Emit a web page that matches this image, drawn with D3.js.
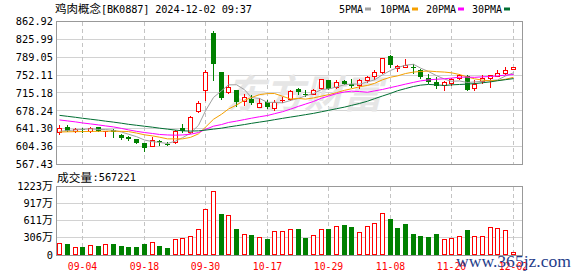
<!DOCTYPE html>
<html><head><meta charset="utf-8">
<script src="https://cdn.jsdelivr.net/npm/d3@7"></script>
<style>html,body{margin:0;padding:0;background:#fff;}svg{display:block;}</style>
</head><body>
<svg id="c" width="578" height="276"></svg>
<script>
// ---------- data ----------
const dates = ["08-30","09-02","09-03","09-04","09-05","09-06","09-09","09-10","09-11","09-12",
"09-13","09-18","09-19","09-20","09-23","09-24","09-25","09-26","09-27","09-30",
"10-08","10-09","10-10","10-11","10-14","10-15","10-16","10-17","10-18","10-21",
"10-22","10-23","10-24","10-25","10-28","10-29","10-30","10-31","11-01","11-04",
"11-05","11-06","11-07","11-08","11-11","11-12","11-13","11-14","11-15","11-18",
"11-19","11-20","11-21","11-22","11-25","11-26","11-27","11-28","11-29","12-02"];
const open  = [635.1,644.0,636.5,641.0,636.5,644.0,634.6,637.9,627.6,623.5,
620.1,611.2,606.4,616.7,609.9,613.3,642.0,635.1,678.2,722.0,
840.0,758.0,716.5,721.3,698.8,703.5,687.1,696.7,684.4,700.9,
703.5,723.4,713.8,713.8,724.8,741.9,727.5,739.8,733.0,732.3,
742.6,750.1,758.3,792.5,767.2,769.9,768.6,761.7,746.0,738.4,
730.9,735.7,746.0,750.1,725.4,739.1,746.6,750.7,756.2,764.5];
const high  = [648.8,649.5,643.4,643.5,645.4,645.4,636.0,640.6,629.7,626.9,
620.8,612.6,623.5,618.0,614.6,638.0,652.1,667.3,698.8,761.7,
842.5,759.0,751.4,722.0,712.4,711.7,704.9,701.5,701.5,707.0,
721.3,726.1,720.6,724.1,744.6,742.6,742.6,741.2,743.9,743.9,
750.7,761.7,788.4,794.5,772.0,785.0,776.0,765.1,754.9,748.0,
739.8,745.3,754.9,752.8,742.6,753.4,753.4,761.7,767.9,768.0];
const low   = [630.4,635.8,635.1,634.5,635.1,636.5,626.9,624.2,620.1,618.0,
611.9,596.1,605.7,607.8,607.8,611.2,634.5,633.1,675.5,701.5,
742.0,703.0,716.0,688.5,691.2,693.0,685.8,683.7,679.6,696.7,
701.5,713.8,709.7,712.4,724.1,722.7,726.1,733.0,727.5,726.1,
738.5,744.6,756.2,768.6,760.4,768.6,757.0,746.6,736.4,726.1,
722.0,731.6,744.6,721.0,722.0,736.4,728.2,749.4,754.9,764.0];
const close = [643.4,637.2,641.3,640.0,643.4,637.2,635.9,634.5,622.1,620.1,
612.6,600.9,618.0,613.9,608.5,637.2,635.8,665.9,694.7,758.3,
775.4,704.0,727.5,696.0,707.0,694.0,695.3,686.4,696.7,701.5,
719.3,716.5,712.4,720.6,743.9,724.1,737.7,734.3,728.9,741.9,
748.0,758.3,787.0,773.4,771.3,773.4,767.2,748.0,737.7,728.9,
738.4,743.9,751.4,722.0,734.3,746.6,751.4,756.2,763.1,767.9];
// volume in 万 (10k); volUp: 1 = red bar, 0 = green bar
const volume = [207,189,136,142,171,160,189,195,160,142,
142,195,225,160,124,278,295,331,461,809,
1134,727,703,461,366,354,313,284,425,425,
461,461,301,349,461,461,508,532,496,402,
508,561,739,638,479,549,372,337,319,372,
278,301,331,443,337,337,490,473,443,56.7];
const volUp = [1,0,1,0,1,0,1,0,0,0, 0,0,1,0,0,1,1,1,1,1,
1,0,1,0,1,0,1,0,1,1, 1,0,0,1,1,0,1,0,0,1,
1,1,1,0,0,0,0,0,0,0, 1,1,1,0,1,1,1,1,1,1];
const lastVolume = 567221;
const ma5  = [636.0,637.5,639.0,640.0,641.1,639.8,639.6,638.2,634.6,630.0,
625.0,618.0,614.7,613.1,610.8,615.7,622.7,632.3,648.4,678.4,
706.0,719.7,732.0,732.2,722.0,705.7,704.0,695.7,695.9,694.8,
699.8,704.1,709.3,714.1,722.5,723.5,727.7,732.1,733.8,733.4,
738.2,742.3,752.8,761.7,767.6,772.7,774.5,766.7,759.5,751.0,
744.0,739.4,740.1,736.9,738.0,739.6,741.1,742.1,750.3,757.0];
const ma10 = [634.5,635.0,635.3,635.5,635.8,636.0,636.2,636.2,636.0,635.5,
632.4,628.8,626.5,623.9,620.4,620.4,620.4,623.5,630.8,644.6,
660.9,671.2,682.1,690.3,700.2,705.9,711.8,713.9,714.1,708.4,
702.8,704.0,702.5,705.0,708.7,711.7,715.9,720.7,723.9,728.0,
730.8,735.0,742.5,747.8,750.5,755.4,758.4,759.7,760.6,759.3,
758.4,756.9,753.4,748.2,744.5,741.8,740.3,741.1,743.6,747.5];
const ma20 = [659.5,657.5,655.5,653.3,651.3,649.2,647.2,645.1,642.0,639.0,
636.0,633.5,631.5,629.5,628.5,628.0,628.5,630.0,633.5,640.0,
646.6,650.0,654.3,657.1,660.3,663.1,666.1,668.7,672.4,676.5,
681.8,687.6,692.3,697.7,704.4,708.8,713.9,717.3,719.0,718.2,
716.8,719.5,722.5,726.4,729.6,733.5,737.1,740.2,742.3,743.6,
744.6,746.0,747.9,748.0,747.5,748.6,749.3,750.4,752.1,753.4];
const ma30 = [669.0,667.0,665.0,663.0,661.0,659.0,657.0,655.0,652.7,650.5,
648.5,646.5,644.5,642.5,640.5,638.5,637.0,636.5,637.0,638.5,
640.5,642.5,645.0,647.5,650.0,652.5,655.0,657.5,660.0,662.8,
665.4,668.0,670.4,673.1,676.4,679.3,682.7,686.0,689.6,693.6,
698.2,703.4,709.0,714.4,719.8,724.3,728.7,731.4,732.9,731.9,
730.7,732.0,732.8,733.6,734.6,736.3,738.2,740.5,742.7,744.9];
const priceTicks = [862.92,825.99,789.05,752.11,715.18,678.24,641.30,604.36,567.43];
const volTicks = [0,306,611,917,1223];
const dateTicks = ["09-04","09-18","09-30","10-17","10-29","11-08","11-20","12-02"];
const maNames = ["5PMA","10PMA","20PMA","30PMA"];

// ---------- drawing ----------
const svg = d3.select("#c");
const MONO = "'DejaVu Sans Mono','Liberation Mono',monospace";
const CJK = "'Noto Sans CJK SC','Noto Sans',sans-serif";
const RED = "#ff0000", GREEN = "#008000";
const maColors = ["#a0a0a0","#f5a000","#ff00ff","#006e32"];

const L = 56, R = 522, STEP = 7.684;
const x = d3.scaleBand().domain(dates).range([L, L + STEP * dates.length]);
const xc = d => Math.floor(x(d) + x.bandwidth() / 2);
const yP = d3.scaleLinear().domain([567.43, 862.92]).range([164.5, 21.5]);
const yV = d3.scaleLinear().domain([0, 1223]).range([255, 186]);
const snap = v => Math.round(v - 0.5) + 0.5;

// grids
const grid = svg.append("g").attr("shape-rendering","crispEdges");
priceTicks.slice(1, -1).forEach(t => grid.append("line")
  .attr("x1", L).attr("x2", R).attr("y1", snap(yP(t))).attr("y2", snap(yP(t)))
  .attr("stroke", "#d2d2d2"));
volTicks.slice(1, -1).forEach(t => grid.append("line")
  .attr("x1", L).attr("x2", R).attr("y1", snap(yV(t))).attr("y2", snap(yV(t)))
  .attr("stroke", "#d2d2d2"));
dateTicks.forEach(d => {
  const gx = xc(d) + 0.5;
  [[21.5, 164.5], [186.5, 255]].forEach(([a, b]) => grid.append("line")
    .attr("x1", gx).attr("x2", gx).attr("y1", a).attr("y2", b)
    .attr("stroke", "#c4c4c4").attr("stroke-dasharray", "4,3"));
});

// watermark
svg.append("text").attr("x", 226).attr("y", 108).attr("font-family", CJK)
  .attr("font-size", 39).attr("font-weight", "bold").attr("font-style", "italic").attr("fill", "#e6e6e6")
  .text("东方财富");

// frames
grid.append("rect").attr("x", L + 0.5).attr("y", 21.5).attr("width", R - L).attr("height", 143)
  .attr("fill", "none").attr("stroke", "#999");
grid.append("rect").attr("x", L + 0.5).attr("y", 186.5).attr("width", R - L).attr("height", 69)
  .attr("fill", "none").attr("stroke", "#999");

// candles
const cg = svg.append("g").attr("shape-rendering", "crispEdges");
dates.forEach((d, i) => {
  const o = open[i], c = close[i], up = c >= o;
  const col = up ? RED : GREEN, cx = xc(d);
  cg.append("line").attr("x1", cx + 0.5).attr("x2", cx + 0.5)
    .attr("y1", Math.round(yP(high[i]))).attr("y2", Math.round(yP(low[i])) + 1).attr("stroke", col);
  const top = Math.round(yP(Math.max(o, c))), bot = Math.round(yP(Math.min(o, c)));
  if (up && bot - top >= 2) {
    cg.append("rect").attr("x", cx - 1.5).attr("y", top + 0.5).attr("width", 4).attr("height", bot - top)
      .attr("fill", "#fff").attr("stroke", col);
  } else {
    cg.append("rect").attr("x", cx - 2).attr("y", top).attr("width", 5).attr("height", Math.max(1, bot - top))
      .attr("fill", col);
  }
});

// moving averages
const line = d3.line().x((v, i) => xc(dates[i]) + 0.5).y(v => yP(v));
[ma5, ma10, ma20, ma30].forEach((arr, k) => svg.append("path").attr("d", line(arr))
  .attr("fill", "none").attr("stroke", maColors[k]).attr("stroke-width", 1));

// volume bars
const vg = svg.append("g").attr("shape-rendering", "crispEdges");
dates.forEach((d, i) => {
  const cx = xc(d), top = Math.round(yV(volume[i])), col = volUp[i] ? RED : GREEN;
  if (volUp[i] && 255 - top >= 3) {
    vg.append("rect").attr("x", cx - 1.5).attr("y", top + 0.5).attr("width", 4).attr("height", 254 - top)
      .attr("fill", "#fff").attr("stroke", col);
  } else {
    vg.append("rect").attr("x", cx - 2).attr("y", top).attr("width", 5).attr("height", 255 - top).attr("fill", col);
  }
});

// axis labels
priceTicks.forEach(t => svg.append("text").attr("x", 53).attr("y", yP(t)).attr("dy", "0.36em")
  .attr("text-anchor", "end").attr("font-family", MONO).attr("font-size", 10.3).attr("fill", "#000")
  .text(t.toFixed(2)));
volTicks.forEach(t => {
  const tx = svg.append("text").attr("x", 53).attr("y", yV(t)).attr("dy", "0.36em")
    .attr("text-anchor", "end").attr("font-family", MONO).attr("font-size", 10.3).attr("fill", "#000");
  if (t === 0) tx.text("0");
  else { tx.append("tspan").text(String(t)); tx.append("tspan").attr("font-family", CJK).attr("font-size", 11).text("万"); }
});
dateTicks.forEach(d => svg.append("text").attr("x", xc(d) + 0.5).attr("y", 270)
  .attr("text-anchor", "middle").attr("font-family", MONO).attr("font-size", 9.8).attr("fill", RED).text(d));

// title
svg.append("text").attr("x", 55).attr("y", 13).attr("font-family", CJK).attr("font-size", 11.5)
  .attr("fill", "#000").text("鸡肉概念");
svg.append("text").attr("x", 101).attr("y", 12.5).attr("font-family", MONO).attr("font-size", 10.3)
  .attr("fill", "#000").attr("textLength", 151).attr("lengthAdjust", "spacing")
  .text("[BK0887] 2024-12-02 09:37");

// volume caption
svg.append("text").attr("x", 57).attr("y", 181.5).attr("font-family", CJK).attr("font-size", 11.7)
  .attr("fill", "#000").text("成交量");
svg.append("text").attr("x", 92.5).attr("y", 181).attr("font-family", MONO).attr("font-size", 10.3)
  .attr("fill", "#000").text(":" + lastVolume);

// legend
const legX = [339, 380, 426, 472];
maNames.forEach((n, k) => {
  const w = n.length * 6;
  svg.append("text").attr("x", legX[k]).attr("y", 13).attr("font-family", MONO).attr("font-size", 10)
    .attr("fill", "#000").text(n);
  svg.append("rect").attr("x", legX[k] + w + 2).attr("y", 7.5).attr("width", 6).attr("height", 3)
    .attr("fill", maColors[k]);
});

// site watermark
svg.append("text").attr("x", 456).attr("y", 266.5).attr("font-family", "'Liberation Serif','DejaVu Serif',serif")
  .attr("font-size", 17).attr("fill", "#1f3d8a").attr("textLength", 115).attr("lengthAdjust", "spacingAndGlyphs")
  .text("www.365jz.com");
</script>
</body></html>
